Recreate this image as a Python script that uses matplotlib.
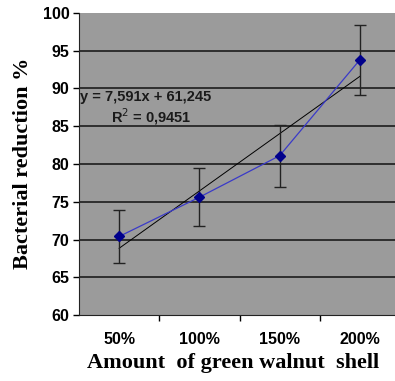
import matplotlib
matplotlib.use("Agg")
import matplotlib.pyplot as plt
import numpy as np

# data
categories = ['50%', '100%', '150%', '200%']
reduction = [70.4, 75.6, 81.1, 93.8]
err = [3.5, 3.85, 4.1, 4.65]
slope = 7.591
intercept = 61.245
r2_text = 'R$^2$ = 0,9451'
eq_text = 'y = 7,591x + 61,245'
y_ticks = [60, 65, 70, 75, 80, 85, 90, 95, 100]

fig = plt.figure(figsize=(3.95, 3.81), dpi=100)
ax = fig.add_axes([79/395, 1 - 315/381, 321/395, 302/381])
ax.set_facecolor('#9b9b9b')

x = np.arange(1, len(categories) + 1)

# grid lines
for yv in y_ticks[1:-1]:
    ax.axhline(yv, color='#111111', lw=1.1, zorder=1)

# trend line
xt = np.array([x[0], x[-1]])
ax.plot(xt, slope * xt + intercept, color='black', lw=0.7, zorder=2)

ax.errorbar(x, reduction, yerr=err, fmt='none', ecolor='#222222',
            elinewidth=1.0, capsize=4.5, capthick=1.0, zorder=3)
ax.plot(x, reduction, color='#3a3ac8', lw=0.9, marker='D', ms=5,
        mfc='#00008b', mec='#00008b', zorder=4)

ax.text(0.51, 88.9, eq_text, fontsize=10.5, fontweight='bold',
        family='Liberation Sans', color='#1a1a1a', ha='left', va='center',
        zorder=5)
ax.text(1.40, 86.3, r2_text, fontsize=10.5, fontweight='bold',
        family='Liberation Sans', color='#1a1a1a', ha='center', va='center',
        zorder=5)

ax.set_xlim(0.5, 4.5)
ax.set_ylim(60, 100)
ax.set_yticks(y_ticks)
ax.set_yticklabels([str(v) for v in y_ticks], fontsize=11.5, fontweight='bold',
                   family='Liberation Sans')
ax.set_xticks(x)
ax.set_xticklabels(categories, fontsize=11.5, fontweight='bold',
                   family='Liberation Sans')
ax.set_xticks([1.5, 2.5, 3.5], minor=True)
ax.tick_params(axis='x', which='major', length=0, pad=12)
ax.tick_params(axis='x', which='minor', length=4, direction='out', width=1)
ax.tick_params(axis='y', length=4, direction='out', width=1, pad=3)

for s in ['top', 'right']:
    ax.spines[s].set_visible(False)
ax.spines['left'].set_color('#222222')
ax.spines['bottom'].set_color('#222222')

fig.text(0.058, 0.572, 'Bacterial reduction %', rotation=90, fontsize=16,
         fontweight='bold', family='Liberation Serif', ha='center', va='center')
fig.text(0.59, 0.047, 'Amount  of green walnut  shell', fontsize=16,
         fontweight='bold', family='Liberation Serif', ha='center', va='center')

fig.savefig('out.png', dpi=100)
